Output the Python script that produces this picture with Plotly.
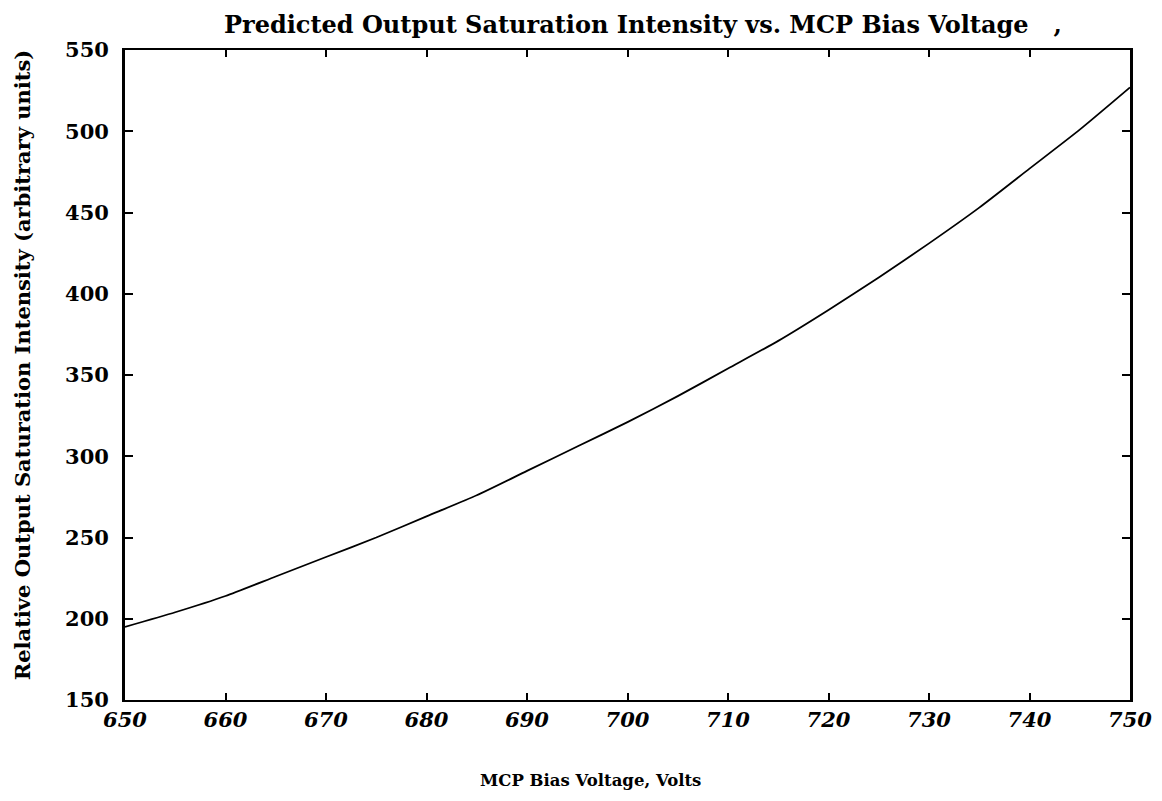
import plotly.graph_objects as go

voltage = [650, 655, 660, 665, 670, 675, 680, 685, 690, 695, 700,
           705, 710, 715, 720, 725, 730, 735, 740, 745, 750]
intensity = [195, 204, 214, 226, 238, 250, 263, 276, 291, 306, 321,
             337, 354, 371, 390, 410, 431, 453, 477, 501, 527]

x_ticks = [650, 660, 670, 680, 690, 700, 710, 720, 730, 740, 750]
y_ticks = [150, 200, 250, 300, 350, 400, 450, 500, 550]

title_text = "Predicted Output Saturation Intensity vs. MCP Bias Voltage   ,"
x_title = "MCP Bias Voltage, Volts"
y_title = "Relative Output Saturation Intensity (arbitrary units)"

FONT = "DejaVu Serif"

fig = go.Figure()
fig.add_trace(go.Scatter(x=voltage, y=intensity, mode="lines",
                         line=dict(color="black", width=1.8, shape="spline", smoothing=0.6),
                         showlegend=False, hoverinfo="skip"))

# page body adds an 8px offset, so the figure is sized to fit the window
fig.update_layout(
    width=1154, height=793,
    margin=dict(l=117, r=32, t=42, b=101, autoexpand=False),
    paper_bgcolor="white", plot_bgcolor="white",
    font=dict(family=FONT, color="black"),
    showlegend=False,
)

fig.update_xaxes(
    range=[650, 750], tickvals=x_ticks, ticktext=[str(v) for v in x_ticks],
    ticks="inside", ticklen=7, tickwidth=1.5, tickcolor="black",
    showline=True, linecolor="black", linewidth=2, mirror="ticks",
    showgrid=False, zeroline=False, automargin=False,
    tickfont=dict(family=FONT, size=21, color="black", weight="bold", style="italic"),
)
fig.update_yaxes(
    range=[150, 550], tickvals=y_ticks, ticktext=[str(v) for v in y_ticks],
    ticks="inside", ticklen=8, tickwidth=1.5, tickcolor="black",
    showline=True, linecolor="black", linewidth=2.8, mirror="ticks",
    showgrid=False, zeroline=False, automargin=False, ticklabelstandoff=9,
    tickfont=dict(family=FONT, size=21, color="black", weight="bold"),
)

fig.add_annotation(text=title_text, xref="paper", yref="paper",
                   x=0.097, y=1.0, xanchor="left", yanchor="bottom", yshift=9,
                   showarrow=False,
                   font=dict(family=FONT, size=24, color="black", weight="bold"))
fig.add_annotation(text=x_title, xref="paper", yref="paper",
                   x=0.463, y=0, xanchor="center", yanchor="middle", yshift=-80,
                   showarrow=False,
                   font=dict(family=FONT, size=16.5, color="black", weight="bold"))
fig.add_annotation(text=y_title, xref="paper", yref="paper",
                   x=0, y=0.515, xanchor="center", yanchor="middle", xshift=-103,
                   textangle=-90, showarrow=False,
                   font=dict(family=FONT, size=21, color="black", weight="bold"))

fig.write_html("out.html")
